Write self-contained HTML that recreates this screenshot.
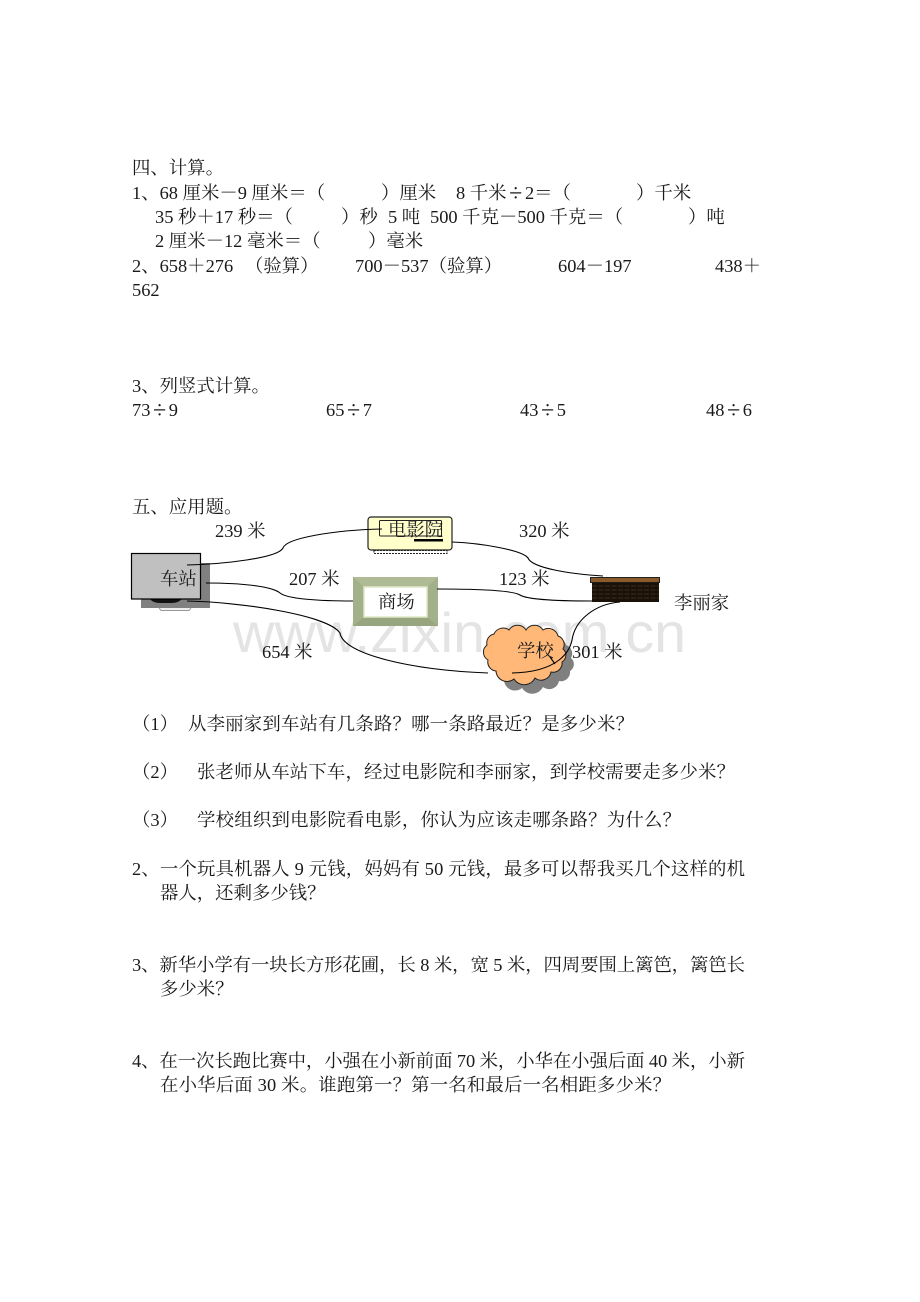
<!DOCTYPE html>
<html lang="zh-CN"><head><meta charset="utf-8"><style>
html,body{margin:0;padding:0;background:#fff}
svg{display:block}
text{font-family:"Liberation Serif","Noto Serif CJK SC",serif;font-size:18.4px;fill:#1a1a1a;white-space:pre}
.d{font-size:24px}
.c{fill:none;stroke:#000;stroke-width:1.1}
</style></head><body>
<svg width="920" height="1302" viewBox="0 0 920 1302" xmlns="http://www.w3.org/2000/svg">
<text x="233" y="652" textLength="453" lengthAdjust="spacingAndGlyphs" style="font-family:'Liberation Sans',sans-serif;font-size:56px;fill:#e4e4e4">www.zixin.com.cn</text>

<text x="132" y="174">四、计算。</text>
<text x="132" y="199">1、68 厘米－9 厘米＝（</text><text x="381" y="199">）厘米</text><text x="456" y="199">8 千米<tspan class="d" dx="2.600" dy="2">÷</tspan><tspan dx="2.600" dy="-2">2</tspan>＝（</text><text x="636" y="199">）千米</text>
<text x="155" y="223">35 秒＋17 秒＝（</text><text x="341" y="223">）秒</text><text x="388" y="223">5 吨</text><text x="430" y="223">500 千克－500 千克＝（</text><text x="688" y="223">）吨</text>
<text x="155" y="247">2 厘米－12 毫米＝（</text><text x="368" y="247">）毫米</text>
<text x="132" y="272">2、658＋276</text><text x="245" y="272">（验算）</text><text x="355" y="272">700－537（验算）</text><text x="558" y="272">604－197</text><text x="715" y="272">438＋</text>
<text x="132" y="296">562</text>
<text x="132" y="392">3、列竖式计算。</text>
<text x="132" y="416">73<tspan class="d" dx="2.600" dy="2">÷</tspan><tspan dx="2.600" dy="-2">9</tspan></text><text x="326" y="416">65<tspan class="d" dx="2.600" dy="2">÷</tspan><tspan dx="2.600" dy="-2">7</tspan></text><text x="520" y="416">43<tspan class="d" dx="2.600" dy="2">÷</tspan><tspan dx="2.600" dy="-2">5</tspan></text><text x="706" y="416">48<tspan class="d" dx="2.600" dy="2">÷</tspan><tspan dx="2.600" dy="-2">6</tspan></text>
<text x="132" y="513">五、应用题。</text>

<!-- station -->
<rect x="141" y="563" width="69" height="45" fill="#808080"/>
<path d="M159 608 L161 610.500 H189 L191 608" fill="#eee" stroke="#999"/>
<path d="M150 599 Q153 603 160 603 H172 Q178 603 182 599 Z" fill="#111"/>
<rect x="131.500" y="553.500" width="69" height="45.500" fill="#c0c0c0" stroke="#000" stroke-width="1.200"/>

<!-- cinema -->
<rect x="374" y="550.500" width="73" height="3" fill="#fff" stroke="#222" stroke-width="1.100" stroke-dasharray="2 1"/>
<rect x="368" y="517" width="84" height="33" rx="3" fill="#ffffcc" stroke="#222" stroke-width="1.200"/>
<rect x="379.500" y="520.500" width="62" height="15.500" rx="1" fill="none" stroke="#222" stroke-width="1"/>
<rect x="414" y="539" width="29" height="2.500" fill="#000"/>

<!-- mall -->
<rect x="353" y="577" width="85" height="49" fill="#a3b18a"/>
<path d="M353 577 H438 L427 587 H364 Z" fill="#aebb95"/>
<path d="M353 626 H438 L427 617 H364 Z" fill="#97a67f"/>
<rect x="364" y="587" width="63" height="30" fill="#fff" stroke="#dfe8c8" stroke-width="1.500"/>

<!-- house -->
<rect x="590.500" y="577.500" width="69" height="5" fill="#8b5a2b" stroke="#222" stroke-width="1"/>
<rect x="592" y="582.500" width="67" height="19.500" fill="#1a1208"/>
<path d="M592 586H659M592 590H659M592 594H659M592 598H659" stroke="#4a3520" stroke-width=".8" stroke-dasharray="5 1.500"/>

<!-- cloud -->
<path transform="translate(8,9)" fill="#808080" d="M487 645 A9 9 0 0 1 494 634 A10 10 0 0 1 509 630 A10 10 0 0 1 526 630 A10 10 0 0 1 543 630 A10 10 0 0 1 558 636 A9 9 0 0 1 563 649 A8 8 0 0 1 562 662 A9 9 0 0 1 551 672 A10 10 0 0 1 535 678 A12 12 0 0 1 514 679 A11 11 0 0 1 496 671 A9 9 0 0 1 488 660 A9 9 0 0 1 487 645Z"/>
<path fill="#ffb877" stroke="#222" stroke-width="1" d="M487 645 A9 9 0 0 1 494 634 A10 10 0 0 1 509 630 A10 10 0 0 1 526 630 A10 10 0 0 1 543 630 A10 10 0 0 1 558 636 A9 9 0 0 1 563 649 A8 8 0 0 1 562 662 A9 9 0 0 1 551 672 A10 10 0 0 1 535 678 A12 12 0 0 1 514 679 A11 11 0 0 1 496 671 A9 9 0 0 1 488 660 A9 9 0 0 1 487 645Z"/>

<!-- connectors -->
<path class="c" d="M187 565 C225 564 278 558 283 548 C286 538 335 530 382 529"/>
<path class="c" d="M452 542 C480 543 522 550 528 558 C532 568 570 574 603 576"/>
<path class="c" d="M206 583 C240 583 272 586 280 593 C287 599 320 601 353 601"/>
<path class="c" d="M437 589 C470 589 512 590 520 595 C528 600 560 601 592 601"/>
<path class="c" d="M187 601 C240 602 328 615 340 633 C343 654 410 670 488 673"/>
<path class="c" d="M620 602 C595 604 575 620 572 640 C570 650 560 672 512 673"/>
<path class="c" d="M550 657 L555 664"/>

<text x="215" y="537">239 米</text>
<text x="519" y="537">320 米</text>
<text x="289" y="585">207 米</text>
<text x="499" y="585">123 米</text>
<text x="262" y="658">654 米</text>
<text x="572" y="658">301 米</text>
<text x="160" y="585">车站</text>
<text x="388" y="536">电影院</text>
<text x="378" y="608">商场</text>
<text x="517" y="657">学校</text>
<text x="674" y="609">李丽家</text>

<text x="132" y="730">（1）</text><text x="188" y="730" textLength="446">从李丽家到车站有几条路？哪一条路最近？是多少米？</text>
<text x="132" y="778">（2）</text><text x="197" y="778" textLength="538">张老师从车站下车，经过电影院和李丽家，到学校需要走多少米？</text>
<text x="132" y="826">（3）</text><text x="197" y="826" textLength="484">学校组织到电影院看电影，你认为应该走哪条路？为什么？</text>
<text x="132" y="875" textLength="613">2、一个玩具机器人 9 元钱，妈妈有 50 元钱，最多可以帮我买几个这样的机</text>
<text x="160" y="899">器人，还剩多少钱？</text>
<text x="132" y="971" textLength="613">3、新华小学有一块长方形花圃，长 8 米，宽 5 米，四周要围上篱笆，篱笆长</text>
<text x="160" y="995">多少米？</text>
<text x="132" y="1067" textLength="613">4、在一次长跑比赛中，小强在小新前面 70 米，小华在小强后面 40 米，小新</text>
<text x="160" y="1091" textLength="511">在小华后面 30 米。谁跑第一？第一名和最后一名相距多少米？</text>
</svg>
</body></html>
